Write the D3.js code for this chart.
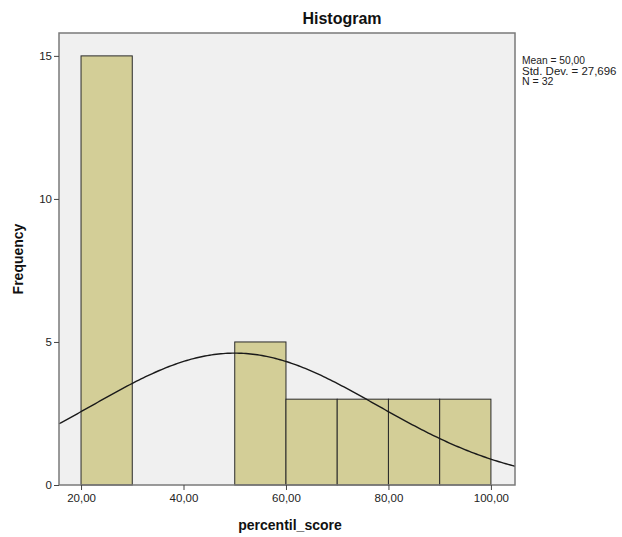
<!DOCTYPE html>
<html><head><meta charset="utf-8">
<script src="https://cdn.jsdelivr.net/npm/d3@7"></script>
<style>body{margin:0;background:#fff;} text{font-family:"Liberation Sans",Arial,sans-serif;}</style>
</head><body>
<svg id="c" width="622" height="537"></svg>
<script>
const binStarts = [20, 50, 60, 70, 80, 90];
const binWidth = 10;
const counts = [15, 5, 3, 3, 3, 3];
const xTicks = [20, 40, 60, 80, 100];
const yTicks = [0, 5, 10, 15];
const stats = {mean: 50.00, sd: 27.696, n: 32};
const statLines = ["Mean = 50,00", "Std. Dev. = 27,696", "N = 32"];

const svg = d3.select("#c");
const L = 59, R = 515, T = 33, B = 485;
const x = d3.scaleLinear().domain([15.7, 104.7]).range([L, R]);
const y = d3.scaleLinear().domain([0, 15.8]).range([B, T]);
const fmt = v => v.toFixed(2).replace(".", ",");

svg.append("rect").attr("x", L).attr("y", T).attr("width", R - L).attr("height", B - T)
  .attr("fill", "#f0f0f0");

svg.selectAll("rect.bar").data(binStarts).join("rect").attr("class", "bar")
  .attr("x", d => x(d)).attr("width", d => x(d + binWidth) - x(d))
  .attr("y", (d, i) => y(counts[i])).attr("height", (d, i) => y(0) - y(counts[i]))
  .attr("fill", "#d3ce97").attr("stroke", "#2a2a2a").attr("stroke-width", 1);

const pts = d3.range(0, 201).map(i => {
  const v = 15.7 + (104.7 - 15.7) * i / 200;
  const z = (v - stats.mean) / stats.sd;
  return [v, stats.n * binWidth / (stats.sd * Math.sqrt(2 * Math.PI)) * Math.exp(-0.5 * z * z)];
});
svg.append("path").datum(pts)
  .attr("d", d3.line().x(d => x(d[0])).y(d => y(d[1])))
  .attr("fill", "none").attr("stroke", "#1a1a1a").attr("stroke-width", 1.4);

svg.append("rect").attr("x", L).attr("y", T).attr("width", R - L).attr("height", B - T)
  .attr("fill", "none").attr("stroke", "#7a7a7a").attr("stroke-width", 1.5);

const xa = svg.append("g").attr("transform", `translate(0,${B})`)
  .call(d3.axisBottom(x).tickValues(xTicks).tickFormat(fmt).tickSize(5).tickPadding(4));
const ya = svg.append("g").attr("transform", `translate(${L},0)`)
  .call(d3.axisLeft(y).tickValues(yTicks).tickSize(5).tickPadding(2));
[xa, ya].forEach(a => {
  a.select(".domain").remove();
  a.selectAll("line").attr("stroke", "#444");
  a.selectAll("text").attr("font-size", 11.5).attr("fill", "#222").attr("font-family", "'Liberation Sans',Arial,sans-serif");
});

svg.append("text").attr("x", 342).attr("y", 24).attr("text-anchor", "middle")
  .attr("font-size", 16).attr("font-weight", "bold").attr("fill", "#111").text("Histogram");
svg.append("text").attr("x", 290).attr("y", 530).attr("text-anchor", "middle")
  .attr("font-size", 14).attr("font-weight", "bold").attr("fill", "#111").text("percentil_score");
svg.append("text").attr("transform", "translate(23,259) rotate(-90)").attr("text-anchor", "middle")
  .attr("font-size", 14).attr("font-weight", "bold").attr("fill", "#111").text("Frequency");

svg.append("g").selectAll("text").data(statLines).join("text")
  .attr("x", 522).attr("y", (d, i) => 64 + i * 10.5)
  .attr("font-size", 10.5).attr("textLength", d => d.length * 5.25)
  .attr("lengthAdjust", "spacingAndGlyphs")
  .attr("fill", "#222").text(d => d);
</script>
</body></html>
